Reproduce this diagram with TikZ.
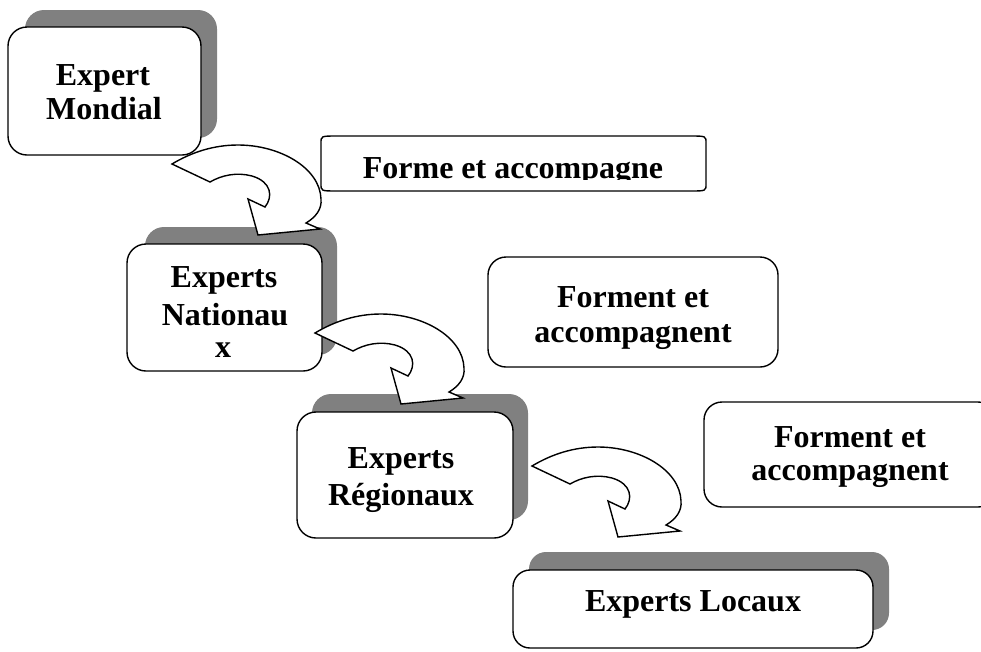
\documentclass[tikz,border=0pt]{standalone}
\usepackage{fontspec}
\setmainfont{Liberation Serif}
\begin{document}
\begin{tikzpicture}[x=1pt,y=-1pt,
  shade/.style={fill=black!50, draw=none, rounded corners=19pt, inner sep=0pt},
  front/.style={fill=white, draw=black, line width=1.4pt, rounded corners=19pt, inner sep=0pt},
  label/.style={anchor=base, inner sep=0pt, font=\bfseries\fontsize{32pt}{36pt}\selectfont},
  bendarrow/.style={fill=white, draw=black, line width=1.4pt, line join=miter},
  uturn/.pic={
    \path[bendarrow] (0,0) .. controls (20,-12) and (42,-19) .. (66,-19)
      .. controls (108,-19) and (148,4) .. (149,35)
      .. controls (150,45) and (144,53) .. (134,59)
      -- (148,65) -- (86,71) -- (76,35) -- (93,43)
      .. controls (101,33) and (100,18) .. (80,12)
      .. controls (65,8) and (50,11) .. (38,18) -- cycle;
  }
]
\useasboundingbox (0,0) rectangle (981,651);
\clip (0,0) rectangle (981,651);

% shadows behind the level boxes
\node[shade, minimum width=192pt, minimum height=128pt] (mondialS) at (121,74) {};
\node[shade, minimum width=192pt, minimum height=128pt] (nationS) at (241,291) {};
\node[shade, minimum width=216pt, minimum height=126pt] (regionS) at (420,457) {};
\node[shade, minimum width=360pt, minimum height=78pt, rounded corners=17pt] (localS) at (709,591) {};

% level boxes
\node[front, minimum width=193pt, minimum height=128pt] (mondial) at (104.5,91) {};
\node[front, minimum width=195pt, minimum height=127pt] (nation) at (224.5,307.5) {};
\node[front, minimum width=216pt, minimum height=126pt] (region) at (405,475) {};
\node[front, minimum width=360pt, minimum height=78pt, rounded corners=17pt] (local) at (693,609) {};

% role boxes
\node[front, minimum width=290pt, minimum height=110pt, rounded corners=18pt] (roleA) at (633,312) {};
\node[front, minimum width=292pt, minimum height=105pt, rounded corners=18pt] (roleB) at (850,454.5) {};
\path[fill=white, draw=black, line width=1.4pt]
  (321,143) .. controls (321,136) .. (337,136) -- (690,136)
  .. controls (706,136) .. (706,143) -- (706,184)
  .. controls (706,191) .. (690,191) -- (337,191)
  .. controls (321,191) .. (321,184) -- cycle;

% texts
\node[label] (t1a) at (103,85) {Expert};
\node[label] (t1b) at (104,119) {Mondial};
\node[label] (t2a) at (224,287) {Experts};
\node[label] (t2b) at (225,325) {Nationau};
\node[label] (t2c) at (223,357) {x};
\node[label] (t3a) at (401,468) {Experts};
\node[label] (t3b) at (401,505) {Régionaux};
\node[label] (t4) at (693,611) {Experts Locaux};
\node[label] (tA1) at (633,307) {Forment et};
\node[label] (tA2) at (633,342) {accompagnent};
\node[label] (tB1) at (850,447) {Forment et};
\node[label] (tB2) at (850,480) {accompagnent};
\begin{scope}
  \clip (300,120) rectangle (720,179.5);
  \node[label] (tF) at (513,178) {Forme et accompagne};
\end{scope}

% curved arrows between levels
\coordinate (a1) at (172,164);
\coordinate (a2) at (315,333);
\coordinate (a3) at (532,466);
\pic at (a1) {uturn};
\pic at (a2) {uturn};
\pic at (a3) {uturn};
\end{tikzpicture}
\end{document}
